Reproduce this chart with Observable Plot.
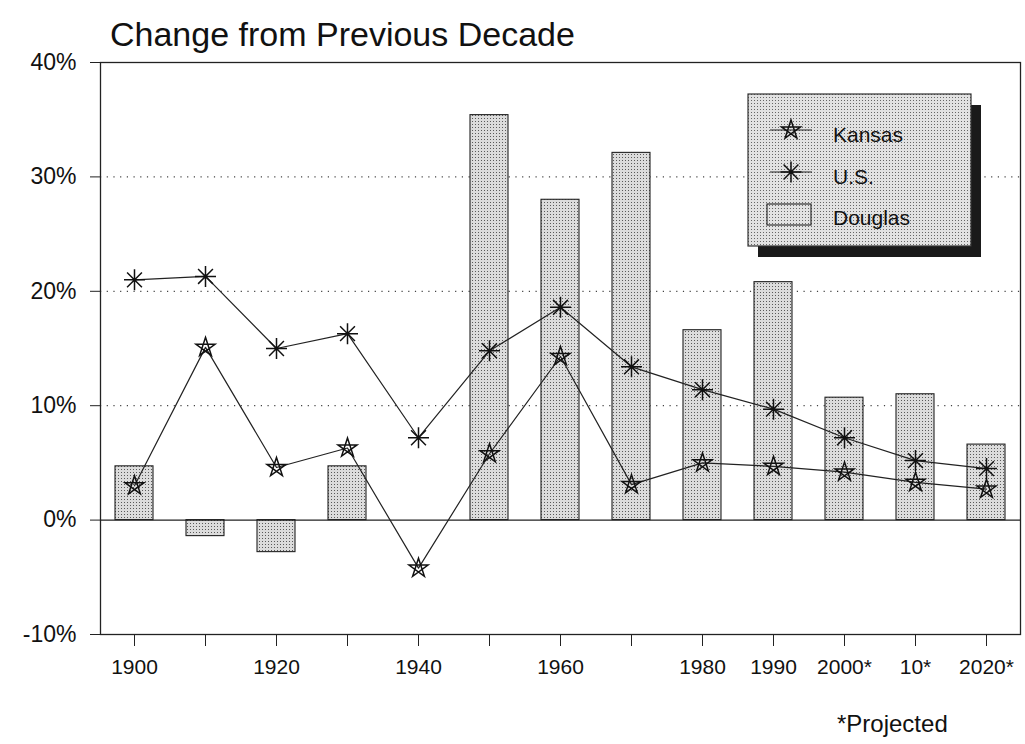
<!DOCTYPE html>
<html><head><meta charset="utf-8">
<script src="https://cdn.jsdelivr.net/npm/d3@7"></script>
<script src="https://cdn.jsdelivr.net/npm/@observablehq/plot@0.6"></script>
<style>
body{margin:0;background:#fff;font-family:"Liberation Sans",Arial,Helvetica,sans-serif;}
#wrap{position:relative;width:1025px;height:744px;overflow:hidden;}
#title{position:absolute;left:110px;top:15px;font-size:34px;color:#111;white-space:nowrap;}
#caption{position:absolute;left:837px;top:710px;font-size:24px;color:#111;white-space:nowrap;}
</style></head><body>
<div id="wrap"><div id="chart"></div><div id="title">Change from Previous Decade</div><div id="caption">*Projected</div></div>
<script>
// ---- data ----
const decades = ["1900","1910","1920","1930","1940","1950","1960","1970","1980","1990","2000*","10*","2020*"];
const labeledDecades = ["1900","1920","1940","1960","1980","1990","2000*","10*","2020*"];
const douglas = [4.7, -1.4, -2.8, 4.7, 0, 35.4, 28.0, 32.1, 16.6, 20.8, 10.7, 11.0, 6.6];
const kansas  = [3.0, 15.1, 4.6, 6.3, -4.2, 5.8, 14.3, 3.1, 5.0, 4.7, 4.2, 3.3, 2.7];
const us      = [21.0, 21.3, 15.0, 16.3, 7.2, 14.8, 18.6, 13.4, 11.4, 9.7, 7.2, 5.2, 4.5];
const yTicks  = [-10, 0, 10, 20, 30, 40];
const gridValues = [10, 20, 30];
const seriesNames = ["Kansas", "U.S.", "Douglas"];

const rows = decades.map((d, i) => ({decade: d, douglas: douglas[i], kansas: kansas[i], us: us[i]}));

// ---- custom symbols ----
const starSymbol = {
  draw(ctx, size) {
    const R = Math.sqrt(size / Math.PI);
    const pts = [];
    for (let k = 0; k < 5; k++) {
      const a = -Math.PI / 2 + k * 2 * Math.PI / 5;
      pts.push([R * Math.cos(a), R * Math.sin(a)]);
    }
    const order = [0, 2, 4, 1, 3];
    ctx.moveTo(pts[0][0], pts[0][1]);
    for (let j = 1; j < 5; j++) ctx.lineTo(pts[order[j]][0], pts[order[j]][1]);
    ctx.closePath();
  }
};
const asteriskSymbol = {
  draw(ctx, size) {
    const R = Math.sqrt(size / Math.PI);
    for (let k = 0; k < 4; k++) {
      const a = k * Math.PI / 4;
      const c = Math.cos(a) * R, s = Math.sin(a) * R;
      ctx.moveTo(c, s);
      ctx.lineTo(-c, -s);
    }
  }
};

const plot = Plot.plot({
  width: 1025,
  height: 744,
  marginTop: 62,
  marginBottom: 110,
  marginLeft: 100,
  marginRight: 5,
  style: {fontFamily: '"Liberation Sans", Arial, Helvetica, sans-serif', background: "#fff", color: "#111"},
  x: {type: "band", domain: decades, paddingInner: 0.47, paddingOuter: 0.18, label: null},
  y: {domain: [-10, 40], label: null},
  marks: [
    Plot.ruleY(gridValues, {stroke: "#444", strokeWidth: 1.3, strokeDasharray: "1.2,5.5"}),
    Plot.barY(rows, {x: "decade", y: "douglas", fill: "url(#stipple)", stroke: "#222", strokeWidth: 1.1}),
    Plot.ruleY([0], {stroke: "#222", strokeWidth: 1.3}),
    Plot.line(rows, {x: "decade", y: "us", stroke: "#222", strokeWidth: 1.2}),
    Plot.line(rows, {x: "decade", y: "kansas", stroke: "#222", strokeWidth: 1.2}),
    Plot.dot(rows, {x: "decade", y: "us", symbol: asteriskSymbol, r: 10.5, fill: "none", stroke: "#111", strokeWidth: 1.5}),
    Plot.dot(rows, {x: "decade", y: "kansas", symbol: starSymbol, r: 10, fill: "none", stroke: "#111", strokeWidth: 1.5}),
    Plot.frame({stroke: "#222", strokeWidth: 1.3}),
    Plot.axisY({ticks: yTicks, tickSize: 10, tickPadding: 14, fontSize: 23, tickFormat: d => d + "%", stroke: "#222"}),
    Plot.axisX({tickSize: 12, tickPadding: 13, fontSize: 21, tickFormat: d => labeledDecades.includes(d) ? d : "", stroke: "#222"})
  ]
});

// stipple pattern for bars
function addPattern(svgSel, id, bg, dot) {
  const p = svgSel.insert("defs", ":first-child").append("pattern")
    .attr("id", id).attr("width", 3).attr("height", 3).attr("patternUnits", "userSpaceOnUse");
  p.append("rect").attr("width", 3).attr("height", 3).attr("fill", bg);
  p.append("rect").attr("x", 1).attr("y", 1).attr("width", 1).attr("height", 1).attr("fill", dot);
}
addPattern(d3.select(plot), "stipple", "#dcdcdc", "#5a5a5a");
document.getElementById("chart").appendChild(plot);

// ---- legend overlay ----
const lg = d3.select("#wrap").append("svg")
  .attr("width", 1025).attr("height", 744)
  .style("position", "absolute").style("left", "0px").style("top", "0px");
addPattern(lg, "stipple2", "#e2e2e2", "#666");
const bx = 748, by = 94, bw = 223, bh = 152;
lg.append("rect").attr("x", bx + 10).attr("y", by + 11).attr("width", bw).attr("height", bh).attr("fill", "#1a1a1a");
lg.append("rect").attr("x", bx).attr("y", by).attr("width", bw).attr("height", bh)
  .attr("fill", "url(#stipple2)").attr("stroke", "#333").attr("stroke-width", 1.2);

function symPath(sym, r) { const p = d3.path(); sym.draw(p, Math.PI * r * r); return p.toString(); }
const items = [
  {name: seriesNames[0], sym: starSymbol, r: 10, lineY: 36, base: 48},
  {name: seriesNames[1], sym: asteriskSymbol, r: 10.5, lineY: 78, base: 90},
  {name: seriesNames[2], sym: null, base: 131}
];
items.forEach(it => {
  if (it.sym) {
    lg.append("line").attr("x1", bx + 22).attr("x2", bx + 64).attr("y1", by + it.lineY).attr("y2", by + it.lineY)
      .attr("stroke", "#222").attr("stroke-width", 1.1);
    lg.append("path").attr("d", symPath(it.sym, it.r)).attr("transform", `translate(${bx + 43},${by + it.lineY})`)
      .attr("fill", "none").attr("stroke", "#111").attr("stroke-width", 1.5);
  } else {
    lg.append("rect").attr("x", bx + 19).attr("y", by + 110).attr("width", 44).attr("height", 21)
      .attr("fill", "url(#stipple2)").attr("stroke", "#222").attr("stroke-width", 1.1);
  }
  lg.append("text").attr("x", bx + 85).attr("y", by + it.base).text(it.name)
    .attr("font-size", 21).attr("fill", "#111")
    .attr("font-family", '"Liberation Sans", Arial, Helvetica, sans-serif');
});
</script>
</body></html>
